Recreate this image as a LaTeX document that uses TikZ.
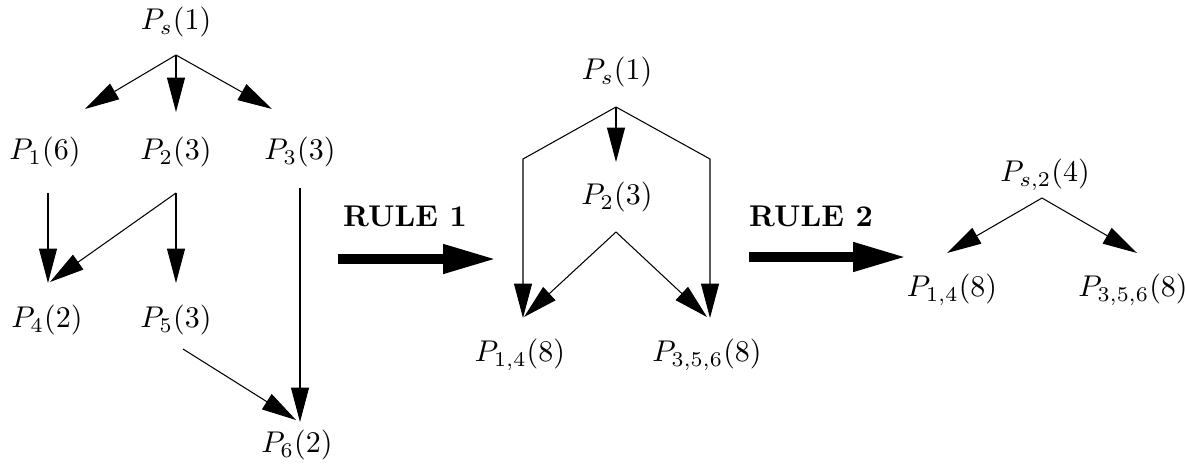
\documentclass[tikz,border=0pt]{standalone}
\usetikzlibrary{arrows.meta}
\begin{document}
\begin{tikzpicture}[x=0.3333pt,y=-0.3333pt,
  lbl/.style={inner sep=0pt},
  edge/.style={line width=0.35pt,-{Triangle[length=11.5pt,width=6pt]}},
  plainedge/.style={line width=0.35pt},
  bigarrow/.style={line width=3.4pt,-{Triangle[length=18pt,width=9pt]}},
  rulelbl/.style={inner sep=0pt,font=\bfseries}]
\useasboundingbox (0,0) rectangle (1185,467);
% ---------- left graph ----------
\node[lbl] (ps)  at (176,22)  {$P_s(1)$};
\node[lbl] (p1)  at (45,152)  {$P_1(6)$};
\node[lbl] (p2)  at (176,152) {$P_2(3)$};
\node[lbl] (p3)  at (300,152) {$P_3(3)$};
\node[lbl] (p4)  at (47,320)  {$P_4(2)$};
\node[lbl] (p5)  at (176,320) {$P_5(3)$};
\node[lbl] (p6)  at (297,445) {$P_6(2)$};
\coordinate (psO) at (176,55);
\coordinate (p1I) at (85,109);
\coordinate (p2I) at (176,112);
\coordinate (p3I) at (272,109);
\coordinate (p1O) at (48,193);
\coordinate (p2O) at (176,193);
\coordinate (p3O) at (300,188);
\coordinate (p4I) at (48,283);
\coordinate (p4J) at (50,282);
\coordinate (p5I) at (176,283);
\coordinate (p5O) at (183,349);
\coordinate (p6I) at (300,422);
\coordinate (p6J) at (296,420);
\draw[edge] (psO) -- (p1I);
\draw[edge] (psO) -- (p2I);
\draw[edge] (psO) -- (p3I);
\draw[edge] (p1O) -- (p4I);
\draw[edge] (p2O) -- (p4J);
\draw[edge] (p2O) -- (p5I);
\draw[edge] (p3O) -- (p6I);
\draw[edge] (p5O) -- (p6J);
% ---------- rule 1 ----------
\node[rulelbl] (r1) at (405,216) {RULE 1};
\coordinate (r1a) at (338,259);
\coordinate (r1b) at (497,259);
\draw[bigarrow] (r1a) -- (r1b);
% ---------- middle graph ----------
\node[lbl] (mps) at (617,72)  {$P_s(1)$};
\node[lbl] (mp2) at (617,197) {$P_2(3)$};
\node[lbl] (mpa) at (520,355) {$P_{1,4}(8)$};
\node[lbl] (mpb) at (707,355) {$P_{3,5,6}(8)$};
\coordinate (mpsO) at (616,107);
\coordinate (mL)   at (523,159);
\coordinate (mR)   at (710,159);
\coordinate (mpaI) at (523,318);
\coordinate (mpbI) at (710,318);
\coordinate (mp2I) at (616,162);
\coordinate (mp2O) at (616,232);
\coordinate (mpaJ) at (524,317);
\coordinate (mpbJ) at (707,317);
\draw[edge] (mpsO) -- (mL) -- (mpaI);
\draw[edge] (mpsO) -- (mR) -- (mpbI);
\draw[edge] (mpsO) -- (mp2I);
\draw[edge] (mp2O) -- (mpaJ);
\draw[edge] (mp2O) -- (mpbJ);
% ---------- rule 2 ----------
\node[rulelbl] (r2) at (811,216) {RULE 2};
\coordinate (r2a) at (749,257);
\coordinate (r2b) at (907,257);
\draw[bigarrow] (r2a) -- (r2b);
% ---------- right graph ----------
\node[lbl] (rps) at (1045,175) {$P_{s,2}(4)$};
\node[lbl] (rpa) at (952,290)  {$P_{1,4}(8)$};
\node[lbl] (rpb) at (1133,290) {$P_{3,5,6}(8)$};
\coordinate (rpsO) at (1042,198);
\coordinate (rpaI) at (947,253);
\coordinate (rpbI) at (1137,253);
\draw[edge] (rpsO) -- (rpaI);
\draw[edge] (rpsO) -- (rpbI);
\end{tikzpicture}
\end{document}
